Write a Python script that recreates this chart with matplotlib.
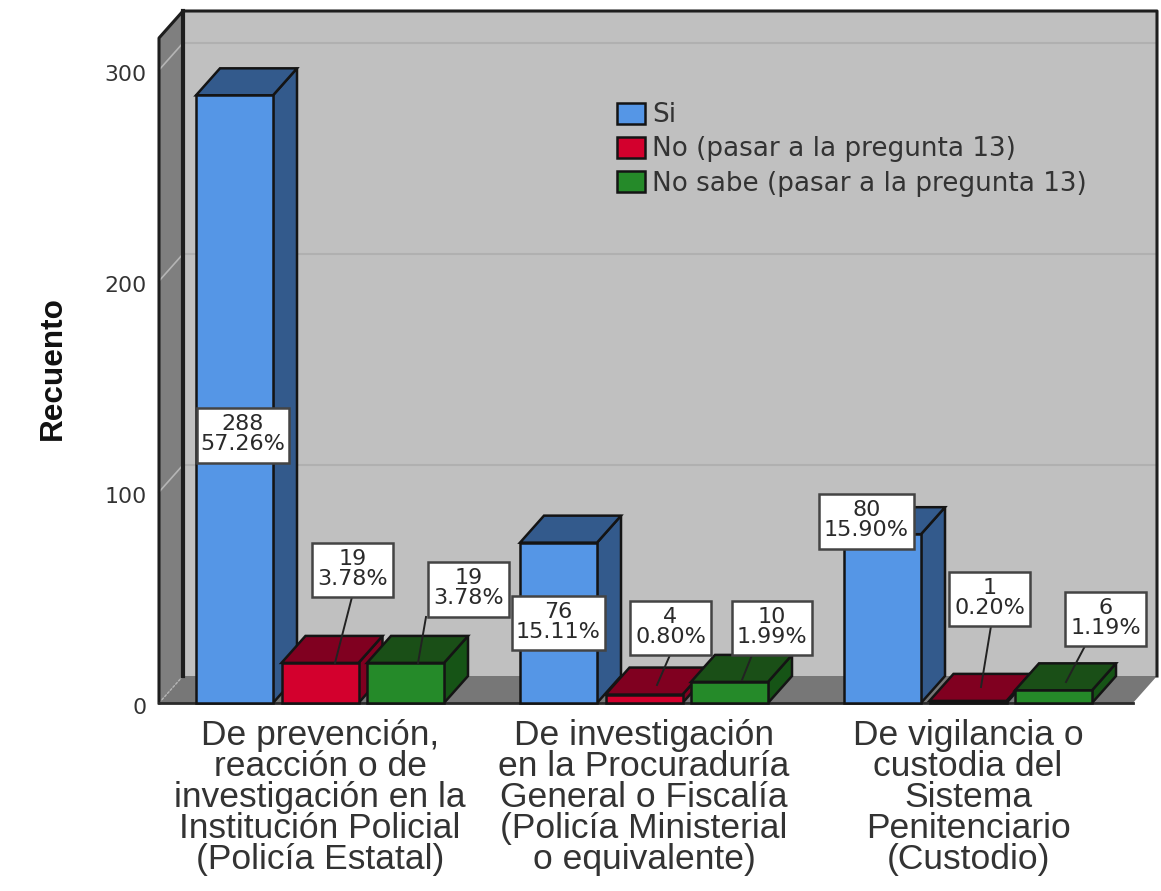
import matplotlib
matplotlib.use("Agg")
import matplotlib.pyplot as plt
from matplotlib.patches import Polygon, Patch, Rectangle
from matplotlib.transforms import ScaledTranslation

plt.rcParams['font.family'] = ['Liberation Sans', 'DejaVu Sans']

categories = ["De prevención,\nreacción o de\ninvestigación en la\nInstitución Policial\n(Policía Estatal)",
              "De investigación\nen la Procuraduría\nGeneral o Fiscalía\n(Policía Ministerial\no equivalente)",
              "De vigilancia o\ncustodia del\nSistema\nPenitenciario\n(Custodio)"]
series_names = ["Si", "No (pasar a la pregunta 13)", "No sabe (pasar a la pregunta 13)"]
si_values = [288, 76, 80]
no_values = [19, 4, 1]
nosabe_values = [19, 10, 6]
si_pct = ["57.26%", "15.11%", "15.90%"]
no_pct = ["3.78%", "0.80%", "0.20%"]
nosabe_pct = ["3.78%", "1.99%", "1.19%"]
y_ticks = [0, 100, 200, 300]

W, H = 1161, 891
X0, X1, Y0, YT = 159, 1133, 703, 38     # front plane in pixels
PX_CAT, PX_VAL = 324.0, 2.11            # pixels per category / per count
C0 = 320                                 # pixel of first category centre
DX, DY = 24 / PX_CAT, 27 / PX_VAL        # depth in data units
BAR_W = 77 / PX_CAT
STEP = 85.5 / PX_CAT

front = ["#5596E6", "#D3002D", "#258A29"]
side = ["#335A8C", "#800020", "#165416"]
top = ["#335A8C", "#800020", "#1A4F17"]
EDGE = "#141414"

fig = plt.figure(figsize=(W / 100, H / 100), dpi=100, facecolor="white")
ax = fig.add_axes([X0 / W, 1 - Y0 / H, (X1 - X0) / W, (Y0 - YT) / H])
ax.set_xlim((X0 - C0) / PX_CAT, (X1 - C0) / PX_CAT)
ax.set_ylim(0, (Y0 - YT) / PX_VAL)
ax.patch.set_visible(False)
for s in ax.spines.values():
    s.set_visible(False)

xa, xb = ax.get_xlim()
ya, yb = ax.get_ylim()


def poly(pts, fc, ec="none", lw=0, z=1):
    ax.add_patch(Polygon(pts, closed=True, fc=fc, ec=ec, lw=lw, zorder=z,
                         clip_on=False, joinstyle="miter"))


# walls and floor
poly([(xa + DX, ya + DY), (xb + DX, ya + DY), (xb + DX, yb + DY), (xa + DX, yb + DY)], "#C0C0C0")
poly([(xa, ya), (xa + DX, ya + DY), (xa + DX, yb + DY), (xa, yb)], "#7F7F7F")
poly([(xa, ya), (xb, ya), (xb + DX, ya + DY), (xa + DX, ya + DY)], "#777777")
ln = dict(clip_on=False, solid_capstyle="projecting")
for v in y_ticks[1:]:
    ax.plot([xa + DX, xb + DX], [v + DY, v + DY], color="#B0B0B0", lw=1.5, zorder=2, **ln)
    ax.plot([xa, xa + DX], [v, v + DY], color="#B5B5B5", lw=1.2, zorder=2, **ln)
ax.plot([xa, xa + DX], [ya, ya + DY], color="#B5B5B5", lw=1.0, ls=(0, (2, 1)), zorder=2, clip_on=False)
ax.plot([xa, xa, xa + DX, xb + DX, xb + DX], [ya, yb, yb + DY, yb + DY, ya + DY],
        color="#1E1E1E", lw=2.2, zorder=3, clip_on=False)
ax.plot([xa + DX, xa + DX], [ya + DY, yb + DY], color="#1E1E1E", lw=3, zorder=3, clip_on=False)
ax.plot([xa, xb], [ya, ya], color="#2A2A2A", lw=2, zorder=3, clip_on=False)

# bars
all_values = [si_values, no_values, nosabe_values]
all_pct = [si_pct, no_pct, nosabe_pct]
z = 5
for c in range(len(categories)):
    for s, vals in enumerate(all_values):
        v = vals[c]
        l = c + (s - 1) * STEP - BAR_W / 2
        r = l + BAR_W
        kw = dict(ec=EDGE, lw=1.8, z=z)
        poly([(r, 0), (r + DX, DY), (r + DX, v + DY), (r, v)], side[s], **kw)
        poly([(l, v), (r, v), (r + DX, v + DY), (l + DX, v + DY)], top[s], **kw)
        ax.bar(l, v, width=BAR_W, align="edge", color=front[s], edgecolor=EDGE,
               linewidth=1.8, zorder=z + 0.5, clip_on=False)
        z += 1

# value label boxes and leaders, placed in pixels: (left, top, right, bottom)
label_box = [[(197, 408, 289, 463), (312, 543, 393, 597), (428, 562, 509, 617)],
             [(512, 596, 605, 650), (630, 601, 711, 655), (732, 601, 812, 655)],
             [(819, 494, 914, 549), (949, 572, 1030, 626), (1065, 592, 1146, 646)]]
leaders = [[None, ((352, 597), (335, 663)), ((426, 617), (418, 663))],
           [None, ((670, 655), (657, 685)), ((752, 655), (742, 680))],
           [None, ((991, 626), (981, 687)), ((1085, 646), (1066, 682))]]
tr = fig.transFigure
for c in range(3):
    for s in range(3):
        L, T, R, B = label_box[c][s]
        if leaders[c][s] is not None:
            (sx, sy), (ex, ey) = leaders[c][s]
            ax.plot([sx / W, ex / W], [1 - sy / H, 1 - ey / H], transform=tr,
                    color="#222222", lw=1.4, zorder=100, clip_on=False)
        ax.add_patch(Rectangle((L / W, 1 - B / H), (R - L) / W, (B - T) / H, transform=tr,
                               fc="white", ec="#444444", lw=1.8, zorder=101, clip_on=False))
        ax.text((L + R) / 2 / W, 1 - ((T + B) / 2 - 1) / H, f"{all_values[s][c]}\n{all_pct[s][c]}",
                transform=tr, ha="center", va="center", ma="center", fontsize=16,
                family="DejaVu Sans", linespacing=1.0, color="#2A2A2A", zorder=102, clip_on=False)

# axes
ax.set_yticks(y_ticks, [str(v) for v in y_ticks])
ax.tick_params(axis="y", length=0, pad=9, labelsize=15.8, labelcolor="#333333", labelfontfamily="DejaVu Sans")
for t in ax.get_yticklabels():
    t.set_transform(t.get_transform() + ScaledTranslation(0, -3 / 100, fig.dpi_scale_trans))
ax.set_xticks(range(3), categories)
ax.tick_params(axis="x", length=0, pad=11.3, labelsize=25.5, labelcolor="#333333")
for t in ax.get_xticklabels():
    t.set_linespacing(0.93)
    t.set_ha("center")
ax.set_ylabel("Recuento", fontsize=22.7, fontweight="bold", color="#111111", labelpad=0)
ax.yaxis.set_label_coords((68 - X0) / (X1 - X0), (Y0 - 368) / (Y0 - YT))

handles = [Patch(fc=front[i], ec=EDGE, lw=1.8) for i in range(3)]
leg = ax.legend(handles, series_names, loc="upper left",
                bbox_to_anchor=((612 - X0) / (X1 - X0), (Y0 - 97) / (Y0 - YT)),
                frameon=False, prop=dict(family="DejaVu Sans", size=18.9), handlelength=1.06, handleheight=0.85,
                handletextpad=0.28, labelspacing=0.31, borderaxespad=0, borderpad=0.2,
                labelcolor="#333333")
leg.set_zorder(50)

fig.savefig("out.png", dpi=100)
